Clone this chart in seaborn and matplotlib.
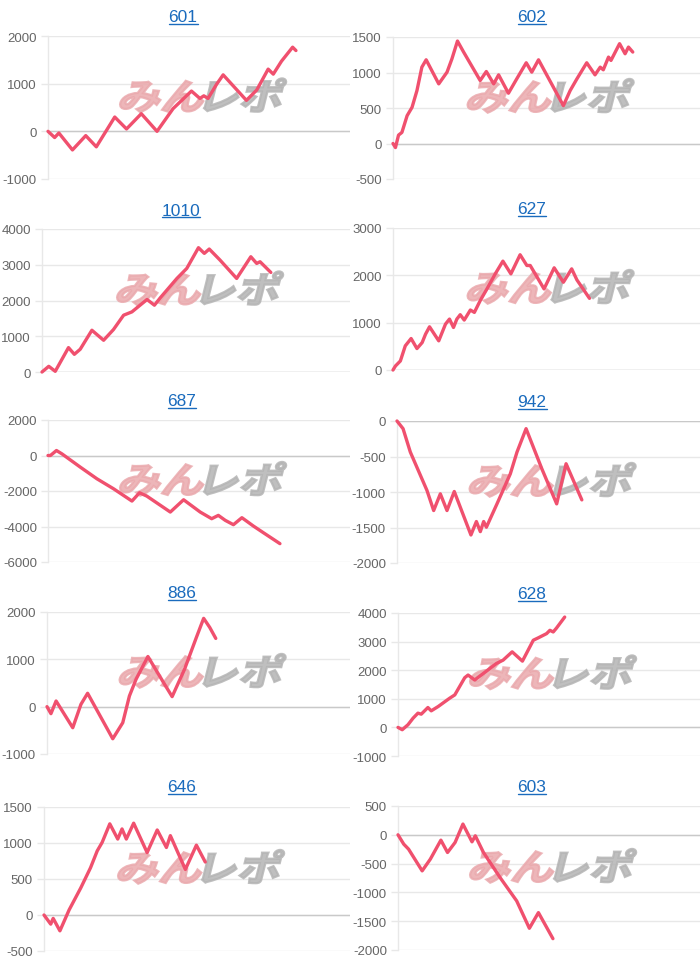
import matplotlib
matplotlib.use("Agg")
import matplotlib.pyplot as plt
import seaborn as sns
import pandas as pd
from matplotlib.textpath import TextPath
from matplotlib.patches import PathPatch
from matplotlib.font_manager import FontProperties
from matplotlib.transforms import Affine2D
from matplotlib.lines import Line2D

# ---------------- data (x = position along the axis in %, y = value) ----------------
titles = ["601", "602", "1010", "627", "687", "942", "886", "628", "646", "603"]

x_601 = [0, 2.2, 3.6, 8.1, 12.5, 16.0, 22.1, 26.0, 30.9, 36.1, 41.4, 47.5, 50.3, 51.6, 53.0, 55.8, 58.0, 65.7, 69.1, 72.9, 74.6, 77.3, 81.0, 82.1]
y_601 = [0, -130, -35, -390, -90, -325, 300, 50, 370, 0, 475, 845, 690, 745, 690, 985, 1185, 650, 865, 1305, 1200, 1470, 1765, 1695]

x_602 = [0, 0.8, 1.8, 2.9, 4.6, 6.2, 7.8, 9.4, 10.8, 14.9, 17.6, 19.2, 21.0, 23.0, 28.4, 30.4, 32.8, 34.4, 37.6, 40.3, 43.4, 45.2, 47.4, 55.5, 57.7, 59.9, 63.1, 65.8, 67.5, 68.5, 70.2, 71.0, 73.8, 75.6, 76.7, 78.1]
y_602 = [0, -57, 118, 156, 392, 509, 745, 1075, 1179, 840, 1005, 1193, 1443, 1288, 887, 1014, 840, 967, 708, 910, 1137, 1005, 1179, 533, 745, 910, 1137, 967, 1075, 1038, 1217, 1170, 1406, 1264, 1358, 1288]

x_1010 = [0, 2.2, 4.3, 8.6, 10.5, 12.4, 16.2, 20.0, 23.2, 26.5, 29.2, 34.1, 36.5, 38.4, 43.8, 47.0, 50.8, 52.7, 54.3, 57.8, 63.2, 67.8, 69.7, 70.8, 74.3]
y_1010 = [0, 159, 19, 682, 495, 636, 1168, 888, 1187, 1589, 1682, 2028, 1869, 2075, 2617, 2897, 3477, 3318, 3439, 3131, 2617, 3224, 3037, 3084, 2785]

x_627 = [0, 0.8, 2.4, 4.0, 5.9, 7.8, 9.5, 10.6, 11.9, 14.9, 17.1, 18.4, 19.7, 20.8, 21.9, 23.2, 25.2, 26.5, 28.4, 30.6, 33.3, 35.8, 38.4, 41.4, 43.6, 44.7, 49.2, 52.5, 55.5, 58.2, 59.9, 64.0]
y_627 = [0, 85, 191, 510, 665, 453, 580, 757, 913, 616, 970, 1076, 899, 1076, 1168, 1055, 1267, 1217, 1465, 1713, 2031, 2300, 2031, 2435, 2208, 2208, 1713, 2159, 1854, 2137, 1904, 1514]

x_687 = [0, 0.8, 2.8, 4.6, 10.7, 16.2, 21.7, 27.8, 30.3, 32.7, 40.5, 44.9, 50.4, 54.2, 56.4, 58.7, 61.4, 64.2, 68.0, 71.3, 76.8]
y_687 = [0, 0, 281, 94, -656, -1312, -1874, -2567, -2099, -2286, -3186, -2493, -3186, -3561, -3373, -3654, -3898, -3504, -3973, -4348, -4966]

x_942 = [0, 2.0, 4.4, 9.9, 12.1, 14.3, 16.5, 18.9, 24.4, 26.2, 27.5, 28.6, 29.5, 33.0, 37.4, 39.6, 42.6, 47.8, 52.7, 55.8, 61.0]
y_942 = [0, -108, -438, -979, -1261, -1026, -1261, -993, -1605, -1416, -1558, -1416, -1496, -1167, -744, -438, -108, -673, -1167, -602, -1111]

x_886 = [0, 1.3, 3.0, 8.5, 11.2, 13.4, 21.7, 25.0, 27.2, 29.4, 33.3, 38.8, 41.3, 45.4, 49.3, 51.7, 53.7, 55.7]
y_886 = [0, -148, 120, -445, 49, 283, -678, -339, 226, 580, 1060, 473, 212, 792, 1463, 1866, 1675, 1442]

x_628 = [0, 1.4, 3.3, 5.0, 6.6, 7.7, 9.9, 11.0, 13.3, 17.1, 18.8, 22.1, 23.2, 25.4, 29.3, 32.6, 34.8, 37.8, 41.2, 44.8, 46.4, 49.2, 50.3, 51.4, 52.5, 55.2]
y_628 = [0, -81, 93, 324, 498, 463, 695, 579, 730, 1020, 1136, 1738, 1831, 1657, 1970, 2236, 2352, 2642, 2317, 3048, 3129, 3279, 3395, 3337, 3476, 3858]

x_646 = [0, 2.2, 3.0, 5.2, 8.2, 12.0, 15.2, 17.4, 19.0, 21.5, 24.1, 25.5, 26.9, 29.3, 33.7, 37.0, 40.0, 41.3, 46.2, 49.8, 52.7]
y_646 = [0, -127, -47, -220, 70, 375, 656, 891, 1008, 1266, 1055, 1195, 1055, 1275, 867, 1181, 938, 1102, 633, 970, 736]

x_603 = [0, 1.9, 3.5, 8.0, 10.7, 14.2, 16.4, 18.9, 21.5, 24.5, 25.6, 28.3, 33.8, 39.3, 43.5, 46.5, 51.3]
y_603 = [0, -162, -249, -626, -423, -93, -307, -133, 186, -122, -17, -307, -742, -1148, -1623, -1351, -1803]

ticks_601 = [-1000, 0, 1000, 2000]
ticks_602 = [-500, 0, 500, 1000, 1500]
ticks_1010 = [0, 1000, 2000, 3000, 4000]
ticks_627 = [0, 1000, 2000, 3000]
ticks_687 = [-6000, -4000, -2000, 0, 2000]
ticks_942 = [-2000, -1500, -1000, -500, 0]
ticks_886 = [-1000, 0, 1000, 2000]
ticks_628 = [-1000, 0, 1000, 2000, 3000, 4000]
ticks_646 = [-500, 0, 500, 1000, 1500]
ticks_603 = [-2000, -1500, -1000, -500, 0, 500]

series = {
    "601": (x_601, y_601, ticks_601),
    "602": (x_602, y_602, ticks_602),
    "1010": (x_1010, y_1010, ticks_1010),
    "627": (x_627, y_627, ticks_627),
    "687": (x_687, y_687, ticks_687),
    "942": (x_942, y_942, ticks_942),
    "886": (x_886, y_886, ticks_886),
    "628": (x_628, y_628, ticks_628),
    "646": (x_646, y_646, ticks_646),
    "603": (x_603, y_603, ticks_603),
}

# ---------------- layout (pixels: left, top, right, bottom) ----------------
W, H = 700, 962
boxes = {
    "601": (48, 37, 350, 180),
    "602": (393, 38, 700, 180),
    "1010": (42, 230, 350, 373),
    "627": (393, 229, 700, 371),
    "687": (48, 421, 350, 563),
    "942": (397, 422, 700, 564),
    "886": (47, 613, 350, 755),
    "628": (398, 614, 700, 757),
    "646": (44, 808, 350, 952),
    "603": (398, 807, 700, 951),
}
title_pos = {
    "601": (183, 18), "602": (532, 18),
    "1010": (181, 211), "627": (532, 210),
    "687": (182, 402), "942": (532, 403),
    "886": (182, 594), "628": (532, 595),
    "646": (182, 788), "603": (532, 788),
}

LINE = "#f0506e"
GRID = "#e8e8e8"
ZERO = "#c9c9c9"
TICKC = "#666666"
TITLEC = "#1a6bbd"

sns.set_theme(style="white")
plt.rcParams["font.family"] = ["Liberation Sans", "DejaVu Sans"]

fig = plt.figure(figsize=(W / 100, H / 100), dpi=100)
fig.patch.set_facecolor("white")

to_fig = Affine2D().scale(1.0 / W, 1.0 / H) + fig.transFigure
wm_fp = FontProperties(family="Noto Sans CJK JP", weight="bold")


def add_watermark(ax, cx, cy):
    size = 36.0
    sx = 1.2
    p1 = TextPath((0, 0), "みん", size=size, prop=wm_fp)
    p2 = TextPath((0, 0), "レポ", size=size, prop=wm_fp)
    e1 = p1.get_extents()
    e2 = p2.get_extents()
    gap = 2
    total = (e1.width + gap + e2.width) * sx
    x0 = cx - total / 2
    ymid = (e1.y0 + e1.y1) / 2
    ybase = H - cy - ymid
    offs = ((p1, -e1.x0, "#eaa9ad"), (p2, e1.width + gap - e2.x0, "#b4b4b4"))
    for path, dx, col in offs:
        tr = (Affine2D().translate(dx, 0).scale(sx, 1.0).skew_deg(14, 0)
              .translate(x0, ybase) + to_fig)
        patch = PathPatch(path, transform=tr, facecolor=col, edgecolor=col,
                          linewidth=1.6, alpha=0.85, zorder=1.5, clip_on=False)
        ax.add_artist(patch)


title_texts = []
for name in titles:
    xs, ys, tks = series[name]
    l, t, r, b = boxes[name]
    ax = fig.add_axes([l / W, 1 - b / H, (r - l) / W, (b - t) / H])
    ax.set_facecolor("none")
    df = pd.DataFrame({"x": xs, "y": ys})
    sns.lineplot(data=df, x="x", y="y", ax=ax, color=LINE, linewidth=2.4,
                 sort=False, estimator=None, zorder=3)
    for ln in ax.lines:
        ln.set_clip_on(False)
        ln.set_solid_joinstyle("round")
    ax.set_xlim(0, 100)
    ax.set_ylim(min(tks), max(tks))
    ax.set_yticks(tks)
    ax.set_yticklabels([str(v) for v in tks])
    ax.set_xticks([])
    ax.set_xlabel("")
    ax.set_ylabel("")
    ax.yaxis.grid(True, color=GRID, linewidth=1, zorder=0)
    ax.set_axisbelow(True)
    ax.axhline(0, color=ZERO, linewidth=1, zorder=1)
    for s in ("top", "right", "bottom"):
        ax.spines[s].set_visible(False)
    ax.spines["left"].set_color(GRID)
    ax.spines["left"].set_linewidth(1)
    ax.tick_params(axis="y", length=5, width=1, color=GRID, labelsize=9.5,
                   labelcolor=TICKC, pad=3, left=True)
    add_watermark(ax, (l + r) / 2, (t + b) / 2 - 11)
    tx, ty = title_pos[name]
    tt = fig.text(tx / W, 1 - ty / H, name, ha="center", va="center",
                  fontsize=12.5, color=TITLEC)
    title_texts.append(tt)

fig.canvas.draw()
renderer = fig.canvas.get_renderer()
for tt in title_texts:
    bb = tt.get_window_extent(renderer)
    yline = bb.y0 + 1.0
    fig.add_artist(Line2D([bb.x0 / W, bb.x1 / W], [yline / H, yline / H],
                          transform=fig.transFigure, color=TITLEC, linewidth=1.0))

fig.savefig("out.png", dpi=100, facecolor="white")
